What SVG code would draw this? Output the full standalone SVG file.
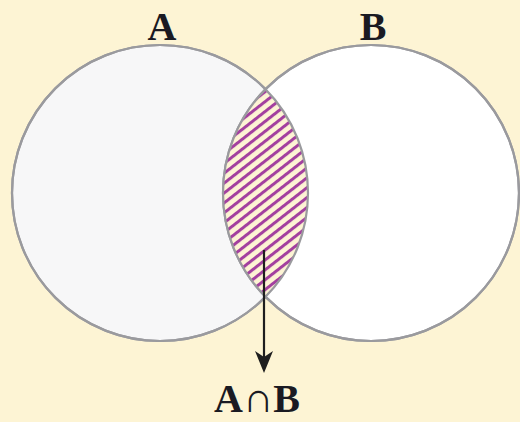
<svg xmlns="http://www.w3.org/2000/svg" width="520" height="422" viewBox="0 0 520 422">
  <defs>
    <pattern id="hatch" patternUnits="userSpaceOnUse" width="10" height="7.8" patternTransform="rotate(-38)">
      <rect width="10" height="7.8" fill="#fdf4d4"/>
      <rect y="0" width="10" height="3" fill="#a3409f"/>
    </pattern>
    <clipPath id="clipA">
      <circle cx="160" cy="193" r="148"/>
    </clipPath>
    <style>
      .circle { stroke: #9a9a9e; stroke-width: 2.2; }
      .label { font-family: "Liberation Serif", "Times New Roman", serif; font-weight: bold; font-size: 40px; fill: #1a1a22; }
    </style>
  </defs>
  <rect width="520" height="422" fill="#fdf4d4"/>
  <g id="nodeA">
    <circle class="circle" cx="160" cy="193" r="148" fill="#f7f7f8"/>
    <text class="label" x="162" y="40" text-anchor="middle">A</text>
  </g>
  <g id="nodeB">
    <circle class="circle" cx="371" cy="193" r="148" fill="#ffffff"/>
    <text class="label" x="373" y="40" text-anchor="middle">B</text>
  </g>
  <g id="intersection">
    <circle cx="371" cy="193" r="148" fill="url(#hatch)" clip-path="url(#clipA)"/>
    <circle class="circle" cx="160" cy="193" r="148" fill="none"/>
    <circle class="circle" cx="371" cy="193" r="148" fill="none"/>
    <text class="label" x="257" y="412" text-anchor="middle">A<tspan font-size="42px" font-weight="normal">∩</tspan>B</text>
  </g>
  <g id="connectors">
    <line x1="264" y1="250" x2="264" y2="366" stroke="#1e1e1e" stroke-width="2.2"/>
    <path d="M255,351 L264,357 L273,351 L264,373 Z" fill="#1e1e1e"/>
  </g>
</svg>
